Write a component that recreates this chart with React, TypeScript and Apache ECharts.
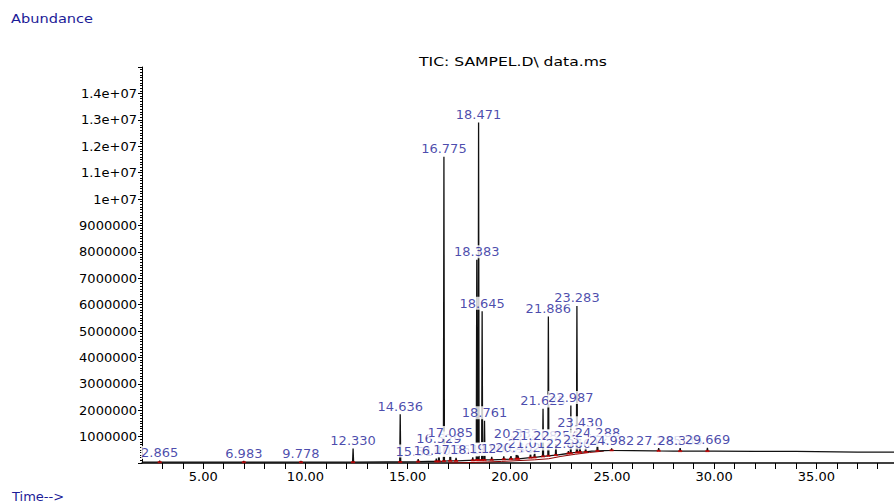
import React, { useEffect, useRef } from "react";
import * as echarts from "echarts";

// Baseline of the total ion chromatogram (time in min, abundance)
const baseTimes = [2.0, 5.0, 10.0, 14.0, 16.0, 17.0, 18.0, 19.0, 20.0, 21.0, 22.0, 23.0, 24.0, 25.0, 26.0, 27.0, 28.0, 30.0, 32.0, 34.0, 36.0, 37.0, 38.8];
const baseValues = [30000, 30000, 30000, 40000, 60000, 80000, 100000, 120000, 150000, 200000, 280000, 380000, 450000, 480000, 470000, 460000, 450000, 450000, 440000, 440000, 420000, 410000, 410000];

// Labelled peaks: retention time, apex abundance, local base
const peakTimes = [2.865, 6.983, 9.778, 12.330, 14.636, 15.516, 16.402, 16.529, 16.775, 17.085, 17.369, 18.186, 18.383, 18.471, 18.645, 18.761, 19.115, 19.705, 20.058, 20.402, 20.332, 21.011, 21.208, 21.625, 21.886, 22.254, 22.866, 22.987, 23.283, 23.430, 23.712, 24.288, 24.982, 27.285, 28.335, 29.669];
const peakHeights = [90000, 70000, 70000, 550000, 1850000, 150000, 170000, 640000, 11600000, 850000, 190000, 210000, 7700000, 12900000, 5750000, 1600000, 230000, 250000, 260000, 280000, 820000, 420000, 720000, 2050000, 5550000, 720000, 450000, 2180000, 5950000, 1220000, 600000, 850000, 550000, 560000, 560000, 570000];
const peakBases = [30000, 30000, 30000, 30000, 40000, 50000, 60000, 60000, 70000, 80000, 80000, 100000, 110000, 110000, 110000, 115000, 120000, 140000, 150000, 160000, 160000, 200000, 210000, 250000, 270000, 300000, 360000, 370000, 400000, 410000, 420000, 460000, 480000, 460000, 450000, 450000];

// Integration baseline marks (dark red)
const integTimes = [17.0, 18.2, 18.9, 19.6, 20.4, 21.2, 21.9, 22.5, 23.2, 23.9, 24.6];
const integValues = [0, 20000, 40000, 60000, 90000, 120000, 160000, 250000, 330000, 400000, 450000];

const yTicks = ["1000000", "2000000", "3000000", "4000000", "5000000", "6000000", "7000000", "8000000", "9000000", "1e+07", "1.1e+07", "1.2e+07", "1.3e+07", "1.4e+07"];

const FONT = "DejaVu Sans";
const BLUE = "#1c1c98";

export default function App() {
  const ref = useRef<HTMLDivElement>(null);
  useEffect(() => {
    if (!ref.current) return;
    const chart = echarts.init(ref.current, null, { renderer: "svg" });

    const trace: number[][] = baseTimes.map((t, i) => [t, baseValues[i]]);
    peakTimes.forEach((t, i) => {
      trace.push([t - 0.025, peakBases[i]]);
      trace.push([t, peakHeights[i]]);
      trace.push([t + 0.025, peakBases[i]]);
    });
    trace.sort((a, b) => a[0] - b[0]);

    const apexes = peakTimes.map((t, i) => ({
      value: [t, peakHeights[i]],
      label: { formatter: t.toFixed(3) },
    }));
    const marks = peakTimes.map((t, i) => [t, peakBases[i]]);
    const integ = integTimes.map((t, i) => [t, integValues[i]]);

    chart.setOption({
      animation: false,
      backgroundColor: "#fff",
      grid: { left: 142, right: 0, top: 67, bottom: 39, containLabel: false },
      xAxis: {
        type: "value",
        min: 2,
        max: 38.8,
        interval: 1,
        splitLine: { show: false },
        axisLine: { show: true, lineStyle: { color: "#000", width: 1.5 } },
        axisTick: { show: true, length: 6, lineStyle: { color: "#000" } },
        axisLabel: {
          color: "#000",
          fontFamily: FONT,
          fontSize: 13,
          margin: 7,
          showMinLabel: false,
          showMaxLabel: false,
          formatter: (v: number) => (Math.abs(v % 5) < 1e-6 ? v.toFixed(2) : ""),
        },
      },
      yAxis: {
        type: "value",
        min: 0,
        max: 15000000,
        interval: 1000000,
        splitLine: { show: false },
        axisLine: { show: true, lineStyle: { color: "#000", width: 1 } },
        axisTick: { show: true, length: 4, lineStyle: { color: "#000" } },
        minorTick: { show: true, splitNumber: 10, length: 2, lineStyle: { color: "#000" } },
        axisLabel: {
          color: "#000",
          fontFamily: FONT,
          fontSize: 13,
          margin: 5,
          formatter: (v: number) => {
            const idx = Math.round(v / 1000000) - 1;
            return idx >= 0 && idx < yTicks.length ? yTicks[idx] : "";
          },
        },
      },
      series: [
        {
          type: "line",
          data: integ,
          showSymbol: false,
          symbol: "none",
          lineStyle: { color: "#8b0000", width: 1 },
          z: 1,
        },
        {
          type: "line",
          data: trace,
          showSymbol: false,
          symbol: "none",
          lineStyle: { color: "#111", width: 1.3 },
          z: 2,
        },
        {
          type: "scatter",
          data: marks,
          symbol: "rect",
          symbolSize: [4, 2],
          itemStyle: { color: "#d00000" },
          z: 3,
        },
        {
          type: "scatter",
          data: apexes,
          symbol: "circle",
          symbolSize: 1,
          itemStyle: { color: "rgba(0,0,0,0)" },
          z: 5,
          label: {
            show: true,
            position: "top",
            distance: 1,
            color: BLUE,
            fontFamily: FONT,
            fontSize: 13,
            backgroundColor: "#fff",
            padding: [0, 0, 0, 0],
          },
        },
      ],
      graphic: [
        { type: "text", x: 11, y: 18, scaleX: 1.12, style: { text: "Abundance", fill: BLUE, font: `13px "${FONT}"`, verticalAlign: "middle" } },
        { type: "text", x: 12, y: 496, style: { text: "Time-->", fill: BLUE, font: `13px "${FONT}"`, verticalAlign: "middle" } },
        { type: "text", x: 513, y: 61, scaleX: 1.2, style: { text: "TIC: SAMPEL.D\\ data.ms", fill: "#000", font: `13px "${FONT}"`, align: "center", verticalAlign: "middle" } },
      ],
    });
    return () => chart.dispose();
  }, []);
  return <div ref={ref} style={{ position: "fixed", left: 0, top: 0, width: 894, height: 502 }} />;
}
